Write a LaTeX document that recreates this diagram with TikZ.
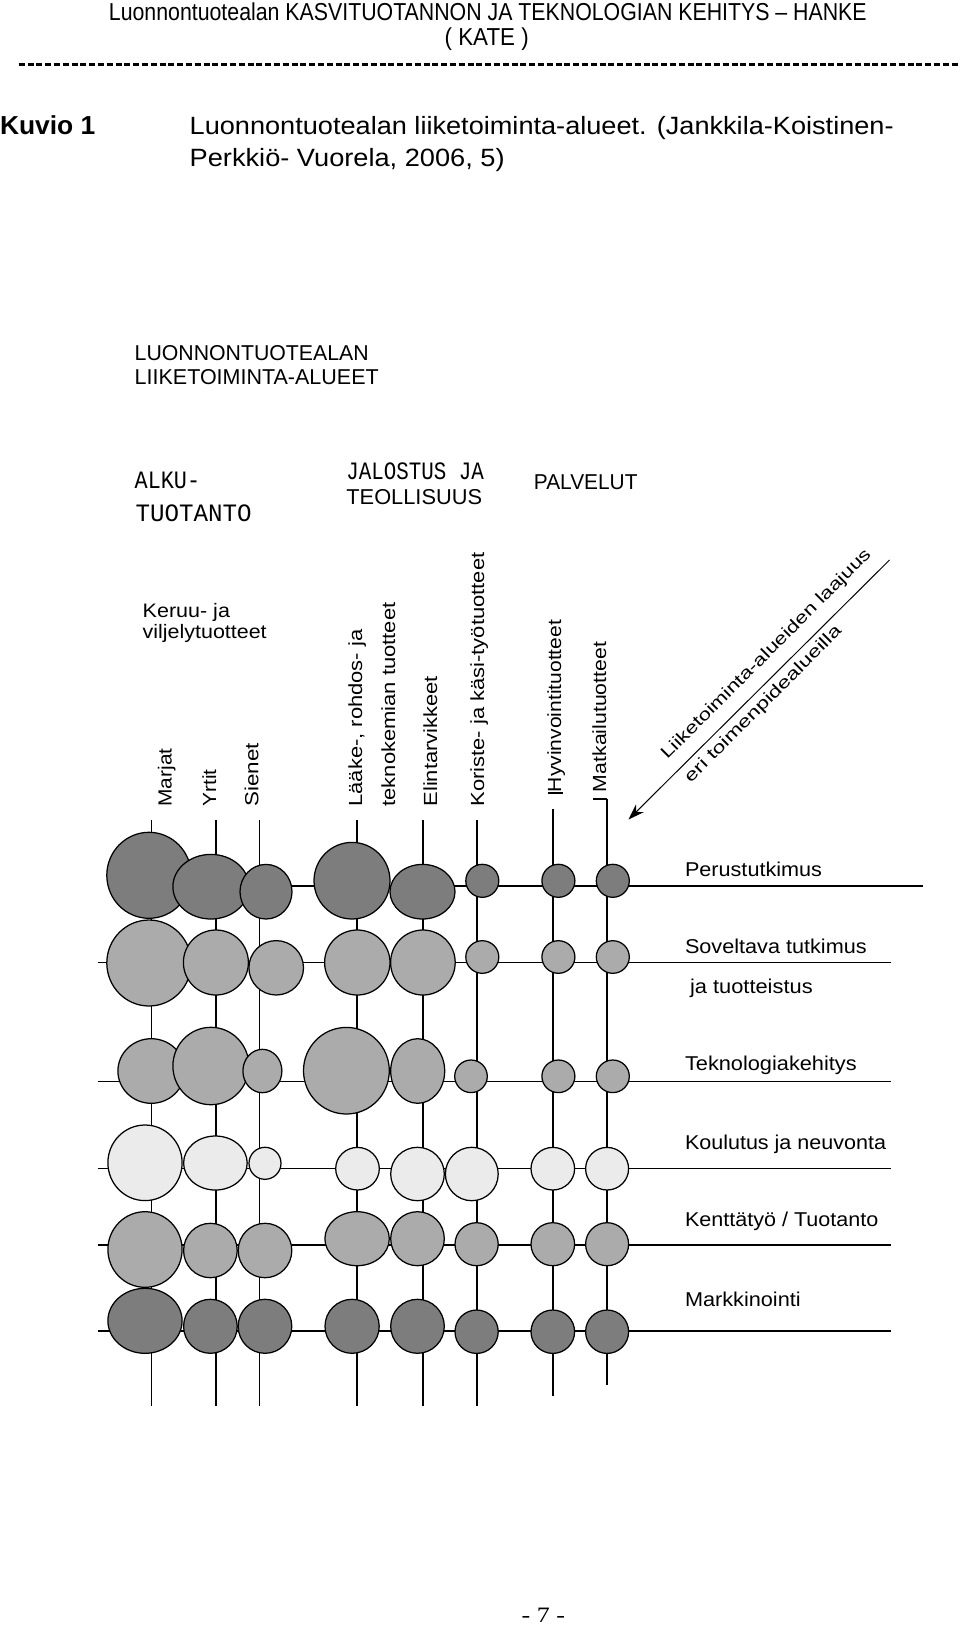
\documentclass[tikz,border=0pt]{standalone}
\usepackage{fontspec}
\usepackage{graphicx}
\usetikzlibrary{arrows.meta}
\setmainfont{Liberation Sans}
\newfontfamily\monof{Liberation Mono}
\newfontfamily\seriff{Liberation Serif}
\newcommand\fitw[2]{\resizebox{#1}{\height}{#2}}
\newcommand\bub[5]{\draw[bub,fill=#5] (#1,#2) ellipse [x radius=#3pt, y radius=#4pt];}
\definecolor{dk}{gray}{0.49}
\definecolor{md}{gray}{0.67}
\definecolor{lt}{gray}{0.92}
\begin{document}
\begin{tikzpicture}[x=1pt,y=-1pt,
  lbl/.style={anchor=base west, inner sep=0pt, outer sep=0pt},
  vlbl/.style={anchor=base west, inner sep=0pt, outer sep=0pt, rotate=90, font=\fontsize{19}{19}\selectfont},
  rowlbl/.style={anchor=base west, inner sep=0pt, outer sep=0pt, font=\fontsize{20}{20}\selectfont},
  arrlbl/.style={inner sep=0pt, outer sep=0pt, rotate=45, font=\fontsize{17}{17}\selectfont},
  gridline/.style={line width=1.45pt, black},
  bub/.style={draw=black, line width=1.25pt}]
\useasboundingbox (0,0) rectangle (960,1625);
\fill[white] (0,0) rectangle (960,1625);

% header
\node[lbl, font=\fontsize{24.5}{25}\selectfont] (head1) at (108.9,20.7) {\fitw{757.8pt}{Luonnontuotealan KASVITUOTANNON JA TEKNOLOGIAN KEHITYS -- HANKE}};
\node[lbl, font=\fontsize{24.5}{25}\selectfont] (head2) at (444.7,45.6) {\fitw{84pt}{( KATE )}};
\draw[line width=2.4pt, dash pattern=on 6pt off 2.8pt] (18.7,64.3) -- (959,64.3);
\node[lbl, font=\fontsize{26}{26}\selectfont\bfseries] (kuvio) at (0,134.8) {\fitw{95.4pt}{Kuvio 1}};
\node[lbl, font=\fontsize{25}{25}\selectfont] (cap1) at (189.7,134.8) {\fitw{704pt}{Luonnontuotealan liiketoiminta-alueet. (Jankkila-Koistinen-}};
\node[lbl, font=\fontsize{25}{25}\selectfont] (cap2) at (189.7,166) {\fitw{315pt}{Perkkiö- Vuorela, 2006, 5)}};

% titles
\node[lbl, font=\fontsize{21.5}{22}\selectfont] (t1) at (134.7,360) {\fitw{234pt}{LUONNONTUOTEALAN}};
\node[lbl, font=\fontsize{21.5}{22}\selectfont] (t2) at (134.7,384) {\fitw{244pt}{LIIKETOIMINTA-ALUEET}};
\node[lbl, font=\fontsize{25}{25}\selectfont\monof] (alku1) at (134.7,488) {\fitw{65.4pt}{ALKU-}};
\node[lbl, font=\fontsize{25}{25}\selectfont\monof] (alku2) at (135.7,521) {\fitw{116pt}{TUOTANTO}};
\node[lbl, font=\fontsize{25}{25}\selectfont\monof] (jal1) at (346.4,479) {\fitw{137.5pt}{JALOSTUS JA}};
\node[lbl, font=\fontsize{21.5}{22}\selectfont] (jal2) at (346.4,504) {\fitw{135.7pt}{TEOLLISUUS}};
\node[lbl, font=\fontsize{21.5}{22}\selectfont] (palv) at (533.9,489) {\fitw{103.6pt}{PALVELUT}};
\node[lbl, font=\fontsize{19.5}{20}\selectfont] (ker1) at (142.7,617.3) {\fitw{87.3pt}{Keruu- ja}};
\node[lbl, font=\fontsize{19.5}{20}\selectfont] (ker2) at (142.7,638.5) {\fitw{124pt}{viljelytuotteet}};

% vertical labels
\node[vlbl] (lmar) at (171.7,806.5) {\fitw{58pt}{Marjat}};
\node[vlbl] (lyrt) at (216,806.5) {\fitw{37pt}{Yrtit}};
\node[vlbl] (lsie) at (258.3,806.5) {\fitw{63.5pt}{Sienet}};
\node[vlbl] (llaa) at (362,806.5) {\fitw{177pt}{Lääke-, rohdos- ja}};
\node[vlbl] (ltek) at (395,806.5) {\fitw{204pt}{teknokemian tuotteet}};
\node[vlbl] (leli) at (437,806.5) {\fitw{130.6pt}{Elintarvikkeet}};
\node[vlbl] (lkor) at (484,806.5) {\fitw{254pt}{Koriste- ja käsi-työtuotteet}};
\node[vlbl] (lhyv) at (561,792) {\fitw{172pt}{Hyvinvointituotteet}};
\node[vlbl] (lmat) at (606,792) {\fitw{150pt}{Matkailutuotteet}};

% arrow
\coordinate (arrS) at (889.5,560);
\coordinate (arrT) at (628.5,819.5);
\draw[line width=1pt, -{Stealth[length=16pt,width=11pt]}] (arrS) -- (arrT);
\node[arrlbl] (arr1) at (766.5,654.5) {\fitw{289pt}{Liiketoiminta-alueiden laajuus}};
\node[arrlbl] (arr2) at (763.5,704.5) {\fitw{214pt}{eri toimenpidealueilla}};

% grid lines
\foreach \x in {151.4,216.1,259.6,357.1,422.9,476.8} \draw[gridline] (\x,820) -- (\x,1406);
\draw[gridline] (553.2,809) -- (553.2,1396);
\draw[gridline] (607.1,799) -- (607.1,1385);
\draw[line width=1.3pt] (548,793) -- (563,793);
\draw[line width=1.3pt] (593,799) -- (607.1,799);
\draw[gridline] (149,886) -- (922.7,886);
\foreach \y in {962.3,1081.7,1168.3,1245,1331} \draw[gridline] (97.5,\y) -- (890.7,\y);

% row labels
\node[rowlbl] (r1) at (685,876) {\fitw{137pt}{Perustutkimus}};
\node[rowlbl] (r2) at (685,953.3) {\fitw{181.7pt}{Soveltava tutkimus}};
\node[rowlbl] (r2b) at (690,993.3) {\fitw{122.7pt}{ja tuotteistus}};
\node[rowlbl] (r3) at (685,1070.7) {\fitw{171.7pt}{Teknologiakehitys}};
\node[rowlbl] (r4) at (685,1149.3) {\fitw{201pt}{Koulutus ja neuvonta}};
\node[rowlbl] (r5) at (685,1226.7) {\fitw{193.3pt}{Kenttätyö / Tuotanto}};
\node[rowlbl] (r6) at (685,1306) {\fitw{115.7pt}{Markkinointi}};

% row 1
\bub{149}{875.3}{42.2}{43}{dk}
\bub{210.9}{886.7}{38}{32.3}{dk}
\bub{266}{891.7}{26}{27.3}{dk}
\bub{352}{880.7}{38}{38.3}{dk}
\bub{422.5}{891.7}{32.5}{27.3}{dk}
\bub{482.3}{880.8}{16.5}{16.5}{dk}
\bub{558.4}{880.8}{16.5}{16.5}{dk}
\bub{612.8}{880.8}{16.5}{16.5}{dk}
% row 2
\bub{149}{963}{42.2}{43}{md}
\bub{215.9}{962.5}{32.5}{32.5}{md}
\bub{276.2}{967.8}{27.3}{27.2}{md}
\bub{357.3}{962.5}{32.7}{32.5}{md}
\bub{422.9}{962.5}{32.3}{32.5}{md}
\bub{482.3}{957}{16.5}{16.3}{md}
\bub{558.4}{957}{16.5}{16.3}{md}
\bub{612.8}{957}{16.5}{16.3}{md}
% row 3
\bub{151.3}{1071}{33.4}{32.3}{md}
\bub{210.9}{1066}{38}{38.7}{md}
\bub{262.4}{1071}{19.5}{21.7}{md}
\bub{346.4}{1070.7}{42.9}{43.3}{md}
\bub{417.7}{1071}{27}{32.3}{md}
\bub{471}{1076.3}{16.3}{16.3}{md}
\bub{558.4}{1076.3}{16.5}{16.3}{md}
\bub{612.8}{1076.3}{16.5}{16.3}{md}
% row 4
\bub{145}{1162.8}{37.1}{37.8}{lt}
\bub{215.4}{1163}{31.8}{27}{lt}
\bub{265}{1163.3}{16}{16}{lt}
\bub{357.5}{1168.7}{21.8}{21.3}{lt}
\bub{417.5}{1174}{26.8}{26.7}{lt}
\bub{471.8}{1174}{26.4}{26.7}{lt}
\bub{552.8}{1168.7}{21.8}{21.3}{lt}
\bub{607.1}{1168.7}{21.5}{21.3}{lt}
% row 5
\bub{145}{1249.5}{37.1}{37.8}{md}
\bub{210.4}{1250.5}{26.8}{27.2}{md}
\bub{265}{1250.5}{26.8}{27.2}{md}
\bub{357.1}{1238.7}{32.2}{27}{md}
\bub{417.5}{1238.7}{26.8}{27}{md}
\bub{476.6}{1244.2}{21.6}{21.5}{md}
\bub{552.8}{1244.2}{21.8}{21.5}{md}
\bub{607.1}{1244.2}{21.5}{21.5}{md}
% row 6
\bub{145}{1320.8}{37.1}{32.5}{dk}
\bub{210.4}{1326.3}{26.8}{27}{dk}
\bub{265}{1326.3}{26.8}{27}{dk}
\bub{352.1}{1326.3}{27.1}{27}{dk}
\bub{417.5}{1326.3}{26.8}{27}{dk}
\bub{476.6}{1331.7}{21.6}{21.7}{dk}
\bub{552.8}{1331.7}{21.8}{21.7}{dk}
\bub{607.1}{1331.7}{21.5}{21.7}{dk}

% page number
\node[lbl, font=\fontsize{22}{22}\selectfont\seriff] (pnum) at (521.7,1622) {\fitw{43.3pt}{- 7 -}};
\end{tikzpicture}
\end{document}
